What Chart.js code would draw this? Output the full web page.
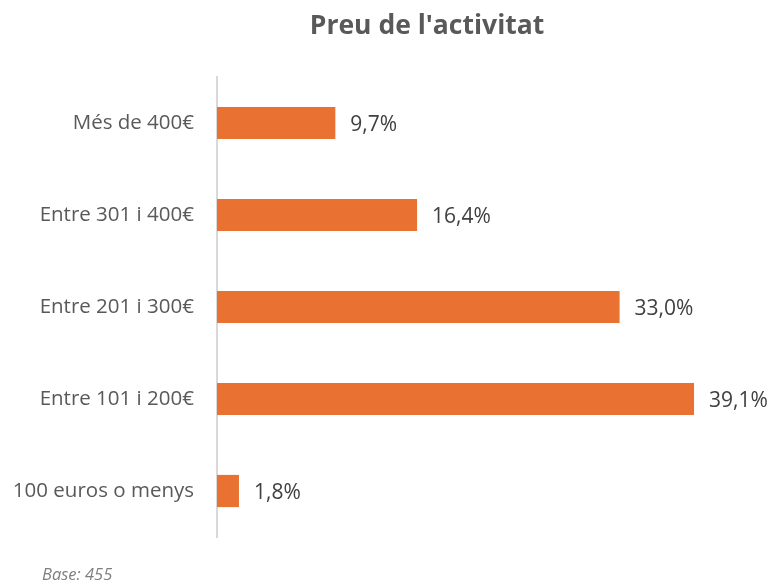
<!DOCTYPE html>
<html><head><meta charset="utf-8">
<script src="https://cdn.jsdelivr.net/npm/chart.js@4/dist/chart.umd.min.js"></script>
<style>html,body{margin:0;padding:0;background:#fff}#w{width:773px;height:582px;position:relative}</style>
</head><body><div id="w"><canvas id="c" width="773" height="582"></canvas></div>
<script>
const categories = ["Més de 400€", "Entre 301 i 400€", "Entre 201 i 300€", "Entre 101 i 200€", "100 euros o menys"];
const values = [9.7, 16.4, 33.0, 39.1, 1.8];
const titleText = "Preu de l'activitat";
const footnote = "Base: 455";

const overlay = {
  id: 'overlay',
  afterDatasetsDraw(chart) {
    const ctx = chart.ctx;
    const meta = chart.getDatasetMeta(0);
    ctx.save();
    ctx.font = '21px "Open Sans", sans-serif';
    ctx.fillStyle = '#404040';
    ctx.textAlign = 'left';
    ctx.textBaseline = 'middle';
    meta.data.forEach((bar, i) => {
      ctx.fillText(values[i].toFixed(1).replace('.', ',') + '%', bar.x + 15, bar.y + 2);
    });
    ctx.font = 'bold 26.5px "Open Sans", sans-serif';
    ctx.fillStyle = '#595959';
    ctx.textAlign = 'center';
    ctx.fillText(titleText, 427, 26);
    ctx.font = 'italic 16.5px "Open Sans", sans-serif';
    ctx.fillStyle = '#7f7f7f';
    ctx.textAlign = 'left';
    ctx.fillText(footnote, 42, 575);
    ctx.restore();
  }
};

new Chart(document.getElementById('c'), {
  type: 'bar',
  data: { labels: categories, datasets: [{ data: values, backgroundColor: '#E97132', borderWidth: 0, categoryPercentage: 1, barPercentage: 0.35 }] },
  options: {
    indexAxis: 'y', responsive: false, animation: false,
    layout: { padding: { top: 77, bottom: 45, right: 7, left: 0 } },
    plugins: { legend: { display: false }, tooltip: { enabled: false }, title: { display: false } },
    scales: {
      x: { display: false, min: 0, max: 45 },
      y: {
        afterFit(s) { s.width = 217; },
        grid: { display: false, drawTicks: false },
        border: { display: true, color: '#d9d9d9', width: 2 },
        ticks: { padding: 23, color: '#595959', font: { family: '"Open Sans", sans-serif', size: 20.5 } }
      }
    }
  },
  plugins: [overlay]
});
</script></body></html>
